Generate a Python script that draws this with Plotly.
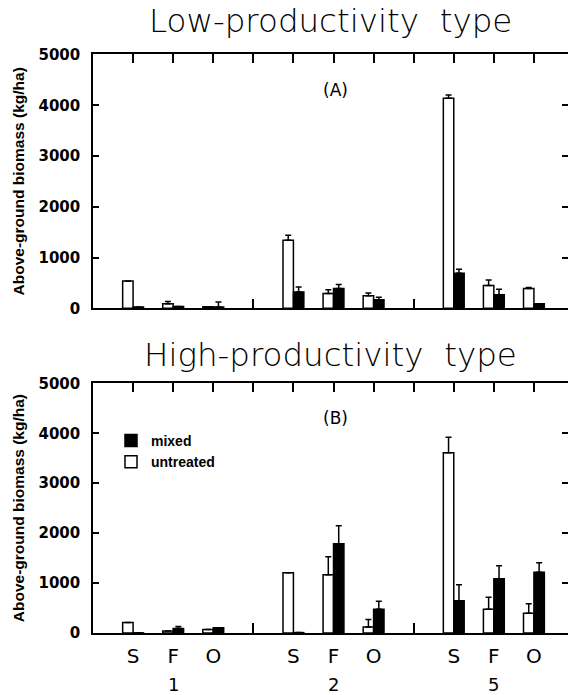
import plotly.graph_objects as go

# ---------------- data ----------------
categories = ["S", "F", "O"]
groups = ["1", "2", "5"]

# Panel A: Low-productivity type (order: group 1 S,F,O; group 2 S,F,O; group 5 S,F,O)
low_untreated = [540, 90, 30, 1340, 290, 250, 4140, 450, 390]
low_untreated_err = [0, 45, 0, 100, 75, 50, 60, 110, 20]
low_mixed = [25, 35, 25, 320, 390, 170, 690, 270, 90]
low_mixed_err = [0, 0, 100, 100, 80, 50, 80, 107, 0]

# Panel B: High-productivity type
high_untreated = [210, 40, 70, 1210, 1170, 120, 3610, 480, 400]
high_untreated_err = [0, 0, 0, 0, 360, 150, 310, 240, 190]
high_mixed = [5, 90, 105, 10, 1790, 480, 650, 1090, 1220]
high_mixed_err = [0, 40, 0, 0, 360, 160, 320, 260, 190]

y_ticks = [0, 1000, 2000, 3000, 4000, 5000]

# slot positions: each group takes 4 slots (3 categories + 1 spacer)
slot_x = [gi * 4 + ci for gi in range(len(groups)) for ci in range(len(categories))]
slot_text = [c for g in groups for c in categories]
sep_x = [gi * 4 + len(categories) for gi in range(len(groups))]
all_slots = list(range(0, len(groups) * 4 - 1))
group_centers = [gi * 4 + 1 for gi in range(len(groups))]

W, H = 568, 695
L = 93
A_top, A_bot = 46.7, 307.3
B_top, B_bot = 384.3, 640.7


def pd(y):
    return (H - y) / H


def blank(v):
    return [" "] * len(v)


fig = go.Figure()
bar_line = dict(color="black", width=1.5)


def err(a):
    return dict(type="data", array=a, arrayminus=[0] * len(a), symmetric=False,
                color="black", thickness=1.5, width=3)


fig.add_trace(go.Bar(x=slot_x, y=low_untreated, name="untreated", marker=dict(color="white", line=bar_line),
                     error_y=err(low_untreated_err), xaxis="x", yaxis="y", showlegend=False))
fig.add_trace(go.Bar(x=slot_x, y=low_mixed, name="mixed", marker=dict(color="black", line=bar_line),
                     error_y=err(low_mixed_err), xaxis="x", yaxis="y", showlegend=False))
fig.add_trace(go.Bar(x=slot_x, y=high_untreated, name="untreated", marker=dict(color="white", line=bar_line),
                     error_y=err(high_untreated_err), xaxis="x2", yaxis="y2"))
fig.add_trace(go.Bar(x=slot_x, y=high_mixed, name="mixed", marker=dict(color="black", line=bar_line),
                     error_y=err(high_mixed_err), xaxis="x2", yaxis="y2"))

# invisible carriers so that the overlay (decoration) axes are drawn
for xa, ya, yv in [("x3", "y", low_untreated), ("x", "y3", low_untreated),
                   ("x4", "y2", high_untreated), ("x5", "y2", high_untreated), ("x2", "y4", high_untreated)]:
    fig.add_trace(go.Scatter(x=slot_x, y=yv, xaxis=xa, yaxis=ya, mode="none", showlegend=False,
                             hoverinfo="skip"))

xr = [-1, 10.85]
yr = [0, 5000]
tickfont = dict(family="DejaVu Sans", size=15, color="black", weight="bold")

common_x = dict(range=xr, showline=True, linecolor="black",
                linewidth=1.5, tickcolor="#000000", tickwidth=2, tickmode="array")
common_y = dict(range=yr, tickcolor="#000000", tickwidth=2, tickmode="array", tickvals=y_ticks)

fig.update_layout(
    width=W, height=H,
    margin=dict(l=L, r=0, t=0, b=0),
    paper_bgcolor="white", plot_bgcolor="white",
    barmode="group", bargap=0.48, bargroupgap=0,
    xaxis=dict(**common_x, anchor="y", side="top", tickvals=all_slots, ticktext=blank(all_slots),
               ticks="inside", ticklen=9),
    xaxis3=dict(**common_x, overlaying="x", side="bottom", anchor="y", tickvals=sep_x, ticktext=blank(sep_x),
                ticks="inside", ticklen=10),
    yaxis=dict(**common_y, domain=[pd(A_bot), pd(A_top)], anchor="x", side="left", showline=True,
               linecolor="black", linewidth=1.5, ticks="inside", ticklen=6, tickfont=tickfont,
               ticklabelstandoff=8),
    yaxis3=dict(**common_y, overlaying="y", side="right", anchor="x", showline=False, ticks="inside",
                ticklen=6, showticklabels=False),
    xaxis2=dict(**common_x, anchor="y2", side="top", tickvals=all_slots, ticktext=blank(all_slots),
                ticks="inside", ticklen=9),
    xaxis4=dict(**common_x, overlaying="x2", side="bottom", anchor="y2", tickvals=sep_x,
                ticktext=blank(sep_x), ticks="inside", ticklen=10),
    xaxis5=dict(range=xr, overlaying="x2", side="bottom", anchor="y2", showgrid=False, zeroline=False,
                showline=False, tickmode="array", tickvals=slot_x, ticktext=slot_text, ticks="",
                tickfont=dict(family="DejaVu Sans", size=20, color="black"), ticklabelstandoff=9),
    yaxis2=dict(**common_y, domain=[pd(B_bot), pd(B_top)], anchor="x2", side="left", showline=True,
                linecolor="black", linewidth=1.5, ticks="inside", ticklen=6, tickfont=tickfont,
                ticklabelstandoff=8),
    yaxis4=dict(**common_y, overlaying="y2", side="right", anchor="x2", showline=False, ticks="inside",
                ticklen=6, showticklabels=False),
    legend=dict(x=(111 - L) / (W - L), y=pd(427), xanchor="left", yanchor="top",
                traceorder="reversed", bgcolor="rgba(0,0,0,0)",
                font=dict(family="Liberation Sans", size=14, color="black", weight="bold"),
                tracegroupgap=0, itemwidth=30),
    showlegend=True,
)

title_font = dict(family="DejaVu Sans", size=32.5, color="black", weight=200)
ylab_font = dict(family="Liberation Sans", size=15.5, color="black", weight="bold")
label_font = dict(family="DejaVu Sans", size=17, color="black")
annotations = [
    dict(text="Low-productivity\u00a0\u00a0type", xref="paper", yref="paper", x=0.5, y=pd(12),
         xanchor="center", yanchor="middle", showarrow=False, font=title_font),
    dict(text="High-productivity\u00a0\u00a0type", xref="paper", yref="paper", x=0.5, y=pd(355),
         xanchor="center", yanchor="middle", showarrow=False, font=title_font),
    dict(text="(A)", xref="x domain", yref="y domain", x=0.51, y=0.861, xanchor="center", yanchor="middle",
         showarrow=False, font=label_font),
    dict(text="(B)", xref="x2 domain", yref="y2 domain", x=0.51, y=0.861, xanchor="center", yanchor="middle",
         showarrow=False, font=label_font),
    dict(text="Above-ground biomass (kg/ha)", xref="paper", yref="y domain", x=(18 - L) / (W - L), y=0.5,
         textangle=-90, xanchor="center", yanchor="middle", showarrow=False, font=ylab_font),
    dict(text="Above-ground biomass (kg/ha)", xref="paper", yref="y2 domain", x=(18 - L) / (W - L), y=0.5,
         textangle=-90, xanchor="center", yanchor="middle", showarrow=False, font=ylab_font),
]
for gx, g in zip(group_centers, groups):
    annotations.append(dict(text=g, xref="x2", yref="paper", x=gx, y=pd(693), xanchor="center",
                            yanchor="middle", borderpad=0, showarrow=False,
                            font=dict(family="DejaVu Sans", size=18, color="black")))
fig.update_layout(annotations=annotations)

fig.write_html("out.html")
